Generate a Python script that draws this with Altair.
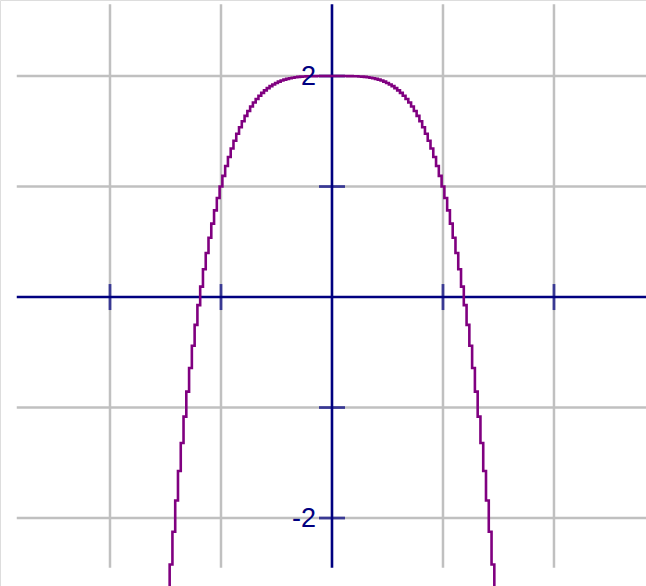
import altair as alt
import pandas as pd

# Curve y = 2 - x^4, sampled every 0.025 on the right half (mirrored for x < 0)
x_half = [0.0, 0.025, 0.05, 0.075, 0.1, 0.125, 0.15, 0.175, 0.2, 0.225,
          0.25, 0.275, 0.3, 0.325, 0.35, 0.375, 0.4, 0.425, 0.45, 0.475,
          0.5, 0.525, 0.55, 0.575, 0.6, 0.625, 0.65, 0.675, 0.7, 0.725,
          0.75, 0.775, 0.8, 0.825, 0.85, 0.875, 0.9, 0.925, 0.95, 0.975,
          1.0, 1.025, 1.05, 1.075, 1.1, 1.125, 1.15, 1.175, 1.2, 1.225,
          1.25, 1.275, 1.3, 1.325, 1.35, 1.375, 1.4, 1.425, 1.45, 1.475]
y_half = [2.0, 2.0, 2.0, 2.0, 1.9999, 1.9998, 1.9995, 1.9991, 1.9984, 1.9974,
          1.9961, 1.9943, 1.9919, 1.9888, 1.985, 1.9802, 1.9744, 1.9674, 1.959, 1.9491,
          1.9375, 1.924, 1.9085, 1.8907, 1.8704, 1.8474, 1.8215, 1.7924, 1.7599, 1.7237,
          1.6836, 1.6393, 1.5904, 1.5368, 1.478, 1.4138, 1.3439, 1.2679, 1.1855, 1.0963,
          1.0, 0.8962, 0.7845, 0.6645, 0.5359, 0.3982, 0.251, 0.0939, -0.0736, -0.2519,
          -0.4414, -0.6427, -0.8561, -1.0822, -1.3215, -1.5745, -1.8416, -2.1234, -2.4205, -2.7333]

grid_x = [-2, -1, 1, 2]
grid_y = [-2, -1, 1, 2]
x_ticks = [-2, -1, 1, 2]
y_ticks = [-2, -1, 1, 2]
y_labels = [2, -2]
y_label_text = ["2", "-2"]

# Visible extents of the drawn grid and axes (data units)
X_LEFT, X_RIGHT = -2.84, 2.84
Y_TOP, Y_BOTTOM = 2.65, -2.45

x_all = [-v for v in reversed(x_half[1:])] + x_half
y_all = list(reversed(y_half[1:])) + y_half
curve = pd.DataFrame({"x": x_all, "y": y_all})

xs = alt.Scale(domain=[-2.991, 2.829], nice=False, zero=False)
ys = alt.Scale(domain=[-2.615, 2.688], nice=False, zero=False)

GRID = "#c0c0c0"
NAVY = "#000080"
PURPLE = "#800080"

vgrid = alt.Chart(pd.DataFrame({"x": grid_x, "y1": Y_TOP, "y2": Y_BOTTOM})).mark_rule(
    color=GRID, strokeWidth=2.5
).encode(
    x=alt.X("x:Q", scale=xs, axis=None),
    y=alt.Y("y1:Q", scale=ys, axis=None),
    y2="y2:Q",
)

hgrid = alt.Chart(pd.DataFrame({"y": grid_y, "x1": X_LEFT, "x2": X_RIGHT})).mark_rule(
    color=GRID, strokeWidth=2.5
).encode(
    y=alt.Y("y:Q", scale=ys, axis=None),
    x=alt.X("x1:Q", scale=xs, axis=None),
    x2="x2:Q",
)

x_axis = alt.Chart(pd.DataFrame({"y": [0], "x1": [X_LEFT], "x2": [X_RIGHT]})).mark_rule(
    color=NAVY, strokeWidth=2.6
).encode(
    y=alt.Y("y:Q", scale=ys, axis=None),
    x=alt.X("x1:Q", scale=xs, axis=None),
    x2="x2:Q",
)

y_axis = alt.Chart(pd.DataFrame({"x": [0], "y1": [Y_TOP], "y2": [Y_BOTTOM]})).mark_rule(
    color=NAVY, strokeWidth=2.6
).encode(
    x=alt.X("x:Q", scale=xs, axis=None),
    y=alt.Y("y1:Q", scale=ys, axis=None),
    y2="y2:Q",
)

x_tick_marks = alt.Chart(pd.DataFrame({"x": x_ticks, "y": 0})).mark_tick(
    color=NAVY, thickness=2.8, size=26, orient="vertical"
).encode(
    x=alt.X("x:Q", scale=xs, axis=None),
    y=alt.Y("y:Q", scale=ys, axis=None),
)

y_tick_marks = alt.Chart(pd.DataFrame({"y": y_ticks, "x": 0})).mark_tick(
    color=NAVY, thickness=2.8, size=26, orient="horizontal"
).encode(
    x=alt.X("x:Q", scale=xs, axis=None),
    y=alt.Y("y:Q", scale=ys, axis=None),
)

line = alt.Chart(curve).mark_line(
    color=PURPLE, strokeWidth=2.6, interpolate="step", clip=True
).encode(
    x=alt.X("x:Q", scale=xs, axis=None),
    y=alt.Y("y:Q", scale=ys, axis=None),
    order="x:Q",
)

labels = alt.Chart(pd.DataFrame({"y": y_labels, "t": y_label_text, "x": 0})).mark_text(
    color=NAVY, fontSize=27, font="Liberation Sans", align="right",
    baseline="middle", dx=-16, dy=1
).encode(
    x=alt.X("x:Q", scale=xs, axis=None),
    y=alt.Y("y:Q", scale=ys, axis=None),
    text="t:N",
)

chart = alt.layer(
    vgrid, hgrid, x_axis, y_axis, x_tick_marks, y_tick_marks, line, labels
).properties(
    width=646, height=586, padding=0, autosize=alt.AutoSizeParams(type="none")
).configure_view(stroke=None).configure(background="white")

chart.save("out.html", embed_options={"renderer": "svg", "actions": False})
